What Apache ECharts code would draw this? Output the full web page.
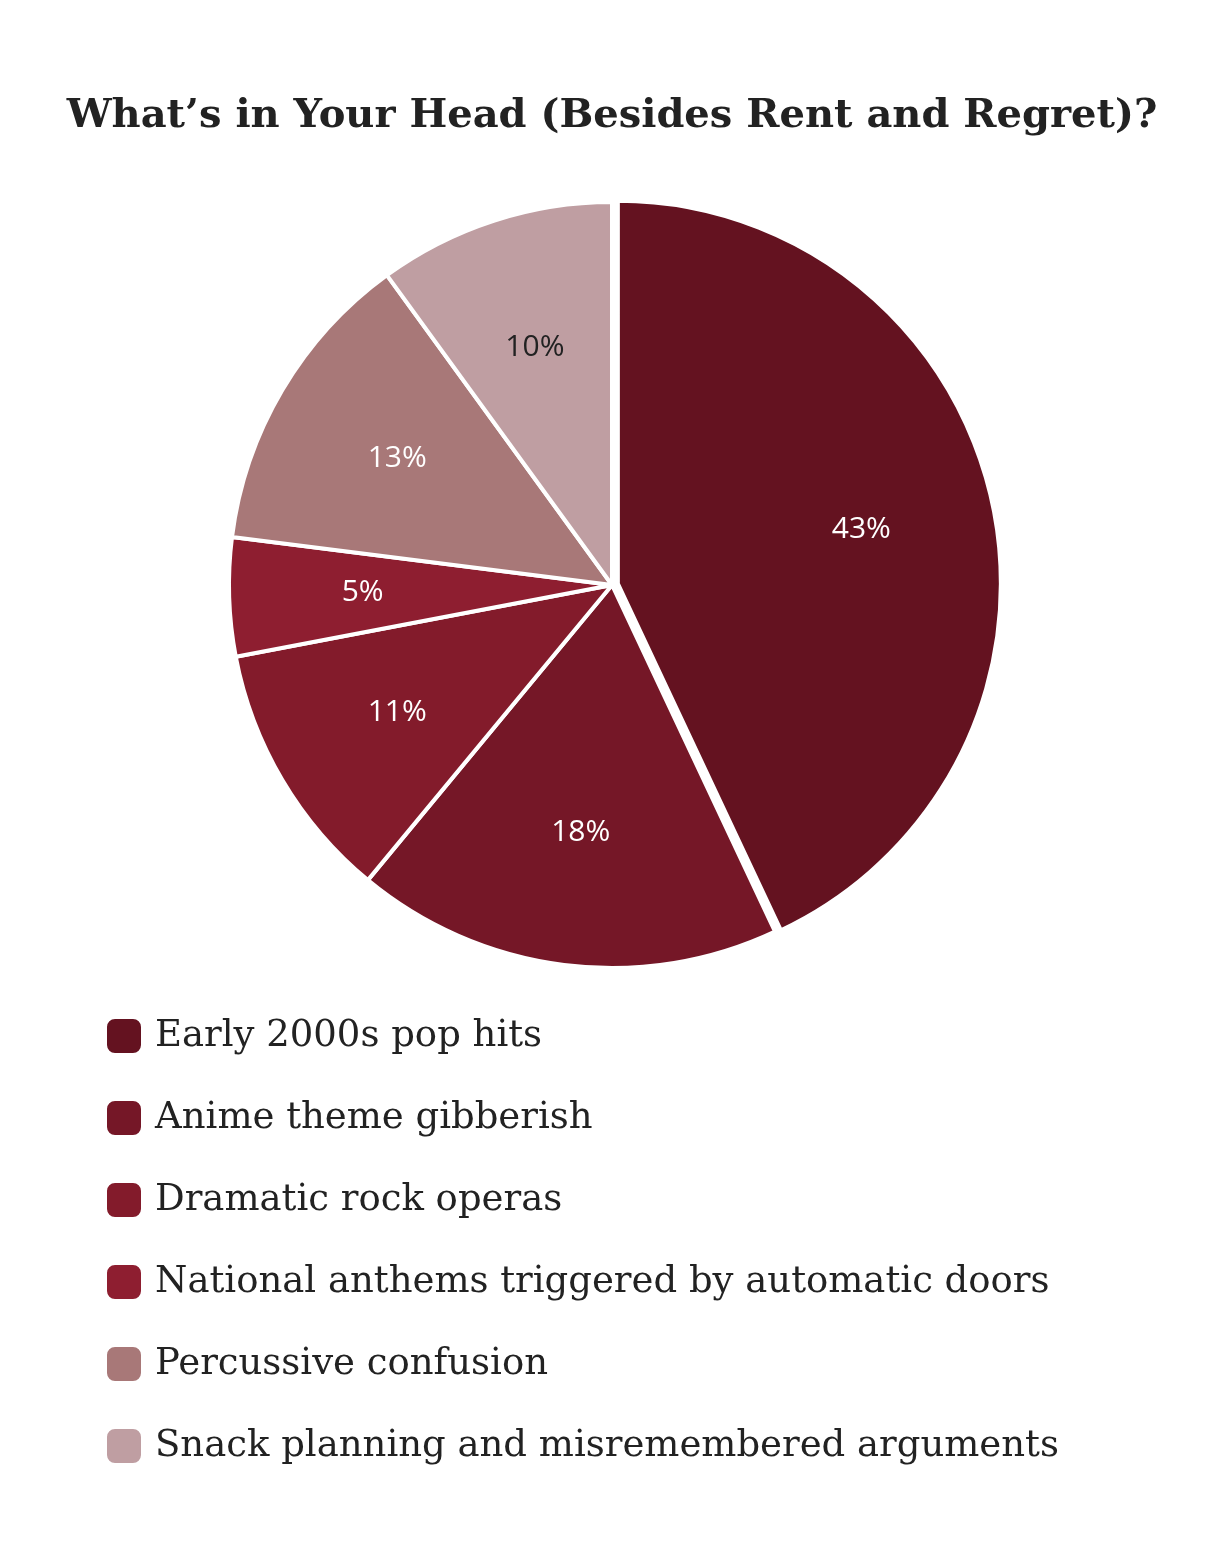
<!DOCTYPE html>
<html><head><meta charset="utf-8">
<script src="https://cdn.jsdelivr.net/npm/echarts@6/dist/echarts.min.js"></script>
<style>body{margin:0;background:#fff}#c{width:1224px;height:1561px}</style>
</head><body><div id="c"></div>
<script>
const categories = ["Early 2000s pop hits","Anime theme gibberish","Dramatic rock operas","National anthems triggered by automatic doors","Percussive confusion","Snack planning and misremembered arguments"];
const values = [43,18,11,5,13,10];
const colors = ["#641220","#751727","#831b2b","#8e1e30","#a87878","#bf9ea2"];
const labelColors = ["#fff","#fff","#fff","#fff","#fff","#222"];
const chart = echarts.init(document.getElementById('c'));
const data = categories.map((n,i)=>({name:n,value:values[i],selected:i===0,itemStyle:{color:colors[i]}}));
const labelData = categories.map((n,i)=>({name:n,value:values[i],selected:i===0,label:{color:labelColors[i]}}));
chart.setOption({
  animation:false,
  title:{text:"What’s in Your Head (Besides Rent and Regret)?",left:'center',top:92,
    textStyle:{fontFamily:'DejaVu Serif',fontWeight:'bold',fontSize:40,color:'#222'}},
  legend:{orient:'vertical',left:100,top:1012,itemWidth:36,itemHeight:36,itemGap:44,
    data:categories,textStyle:{fontFamily:'DejaVu Serif',fontSize:37,color:'#222',padding:[0,0,0,8]}},
  series:[{type:'pie',center:[612,585],radius:383,startAngle:90,clockwise:true,
    selectedMode:'single',selectedOffset:6,data:data,
    itemStyle:{borderColor:'#fff',borderWidth:4},label:{show:false},labelLine:{show:false},emphasis:{disabled:true}},
   {type:'pie',center:[612,585],radius:[110,383],startAngle:90,silent:true,
    selectedMode:'single',selectedOffset:6,data:labelData,
    itemStyle:{color:'rgba(0,0,0,0)'},
    label:{show:true,position:'inside',formatter:'{c}%',fontFamily:'Open Sans',fontSize:30},
    labelLine:{show:false},emphasis:{disabled:true}}]
});
</script></body></html>
